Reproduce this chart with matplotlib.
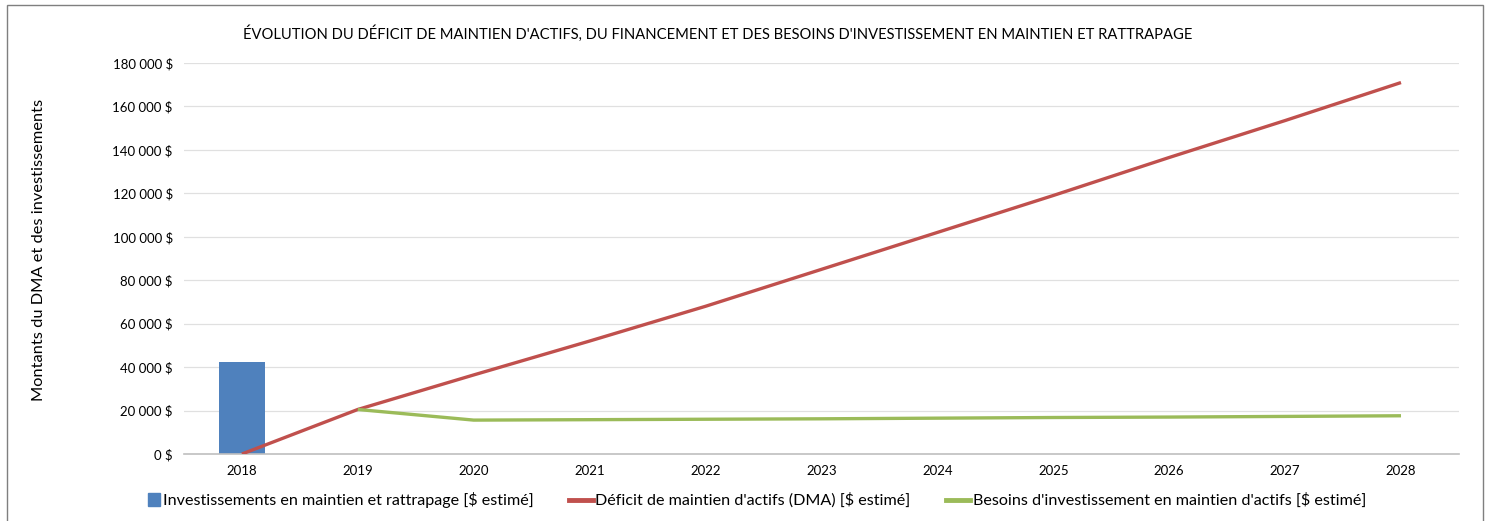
import matplotlib
matplotlib.use("Agg")
import matplotlib.pyplot as plt
from matplotlib.ticker import FuncFormatter, MultipleLocator
from matplotlib.patches import Rectangle
from matplotlib.lines import Line2D
from matplotlib.legend_handler import HandlerPatch

years = ["2018", "2019", "2020", "2021", "2022", "2023", "2024", "2025", "2026", "2027", "2028"]
investissements = [42500, None, None, None, None, None, None, None, None, None, None]
dma = [0, 20500, 36400, 52000, 68000, 85000, 102000, 119000, 136500, 153500, 171000]
besoins = [None, 20500, 15600, 15800, 16000, 16200, 16500, 16800, 17000, 17300, 17600]

title = "ÉVOLUTION DU DÉFICIT DE MAINTIEN D'ACTIFS, DU FINANCEMENT ET DES BESOINS D'INVESTISSEMENT EN MAINTIEN ET RATTRAPAGE"
ylabel = "Montants du DMA et des investissements"
labels = ["Investissements en maintien et rattrapage [$ estimé]",
          "Déficit de maintien d'actifs (DMA) [$ estimé]",
          "Besoins d'investissement en maintien d'actifs [$ estimé]"]

plt.rcParams['font.family'] = ['Lato', 'DejaVu Sans']

C_BAR, C_RED, C_GREEN = "#4f81bd", "#c0504d", "#9bbb59"

fig = plt.figure(figsize=(14.93, 5.21), dpi=100)
ax = fig.add_axes([0.1232, 0.1286, 0.9772 - 0.1232, 0.8791 - 0.1286])

x = list(range(len(years)))
bx = [i for i, v in enumerate(investissements) if v is not None]
bv = [v for v in investissements if v is not None]
ax.bar(bx, bv, width=0.4, color=C_BAR, zorder=2)

dx = [i for i, v in enumerate(dma) if v is not None]
dv = [v for v in dma if v is not None]
ax.plot(dx, dv, color=C_RED, lw=2.4, zorder=3, solid_capstyle='butt')

gx = [i for i, v in enumerate(besoins) if v is not None]
gv = [v for v in besoins if v is not None]
ax.plot(gx, gv, color=C_GREEN, lw=2.4, zorder=3, solid_capstyle='butt')

ax.set_xlim(-0.5, len(years) - 0.5)
ax.set_ylim(0, 180000)
ax.yaxis.set_major_locator(MultipleLocator(20000))
ax.yaxis.set_major_formatter(FuncFormatter(lambda v, p: f"{int(v):,} $".replace(",", " ")))
ax.set_xticks(x)
ax.set_xticklabels(years)
ax.tick_params(axis='both', length=0, labelsize=9.5, colors="#000000")
ax.tick_params(axis='x', pad=8)
ax.tick_params(axis='y', pad=8)
ax.grid(axis='y', color="#e0e0e0", lw=0.9, zorder=0)
ax.set_axisbelow(True)
for s in ["top", "right", "left"]:
    ax.spines[s].set_visible(False)
ax.spines["bottom"].set_color("#bfbfbf")
ax.spines["bottom"].set_linewidth(1.2)

fig.text(0.481, 0.935, title, ha="center", va="center", fontsize=10.6)
fig.text(0.026, 0.52, ylabel, rotation=90, ha="center", va="center", fontsize=11.8)


def square_patch(legend, orig_handle, xdescent, ydescent, width, height, fontsize):
    s = 9.0
    return Rectangle((width - s - xdescent, -ydescent + (height - s) / 2), s, s)


bar_handle = Rectangle((0, 0), 1, 1, color=C_BAR)
handles = [
    bar_handle,
    Line2D([], [], color=C_RED, lw=3.5),
    Line2D([], [], color=C_GREEN, lw=3.5),
]
fig.legend(handles, labels, loc="center", bbox_to_anchor=(0.503, 0.04), ncol=3, frameon=False,
           fontsize=11.6, handlelength=1.5, handletextpad=0.15, columnspacing=2.2,
           handler_map={Rectangle: HandlerPatch(patch_func=square_patch)})

fig.patches.append(Rectangle((0.005, -0.01), 0.988, 1.0, transform=fig.transFigure,
                             fill=False, edgecolor="#7f7f7f", lw=1.0))

fig.savefig("out.png", dpi=100)
